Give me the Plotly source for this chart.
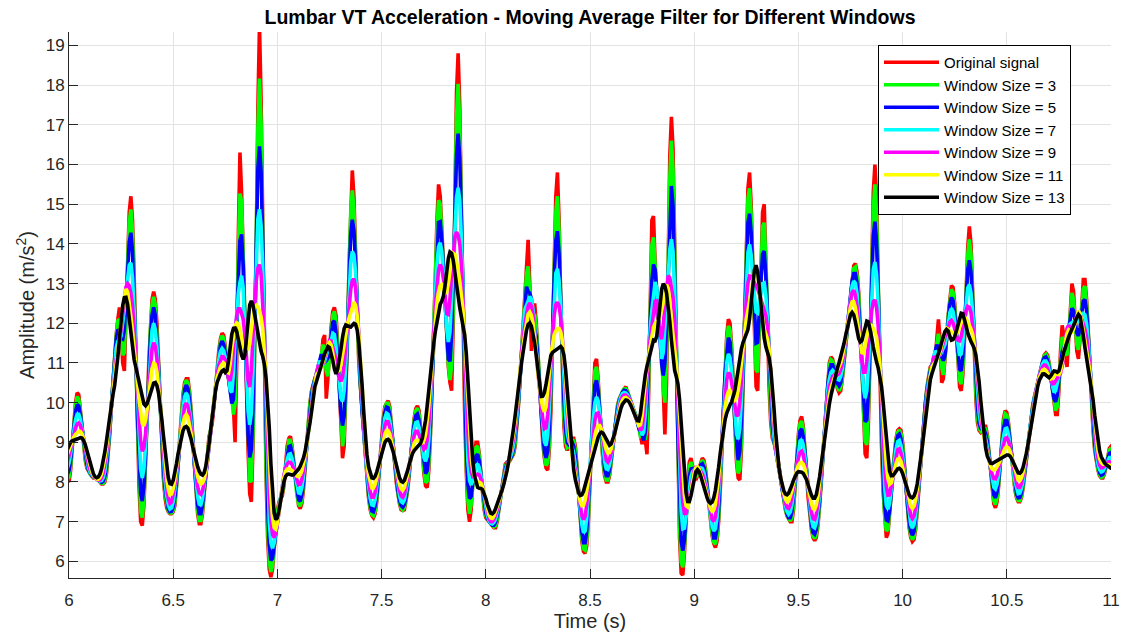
import numpy as np
import pandas as pd
import plotly.graph_objects as go

# Sampling of the lumbar VT acceleration signal
fs = 128.0            # samples per second
t_start = 5.9375      # first sample time (s)

# Original signal (m/s^2), one row = 1/16 s (8 samples)
signal_pre = [9.0, 9.0, 8.9, 8.8, 8.6, 8.4, 8.2, 8.05]
signal_6s = [
    8.0, 8.3, 8.9, 9.5, 10.0, 10.25, 10.2, 9.8,
    9.3, 8.9, 8.55, 8.35, 8.25, 8.2, 8.15, 8.1,
    8.1, 8.1, 8.05, 8.0, 7.95, 7.95, 8.0, 8.2,
    8.6, 9.2, 9.9, 10.6, 11.2, 11.7, 12.1, 12.4,
    11.8, 11.0, 10.8, 12.0, 13.6, 14.8, 15.2, 14.6,
    13.2, 11.3, 9.4, 7.9, 7.0, 6.9, 7.4, 8.4,
    9.7, 11.0, 12.0, 12.6, 12.8, 12.6, 12.0, 11.0,
    9.9, 8.9, 8.1, 7.6, 7.35, 7.25, 7.2, 7.2,
    7.25, 7.4, 7.8, 8.4, 9.1, 9.7, 10.2, 10.5,
    10.6, 10.6, 10.3, 9.8, 9.1, 8.4, 7.7, 7.2,
    6.95, 6.95, 7.2, 7.7, 8.3, 8.8, 9.15, 9.3,
    9.5, 9.9, 10.4, 10.9, 11.3, 11.6, 11.75, 11.7,
    11.4, 10.9, 10.5, 10.3, 10.2, 9.9, 9.0, 11.0,
    14.2, 16.3, 15.3, 13.6, 11.8, 10.2, 8.8, 7.7,
    7.5, 8.9, 11.2, 13.8, 17.4, 19.5, 17.6, 14.0,
    10.6, 8.3, 6.6, 5.8, 5.6, 5.8, 6.3, 6.9,
]
signal_7s = [
    7.3, 7.5, 7.6, 7.65, 7.9, 8.4, 8.9, 9.1,
    9.15, 8.9, 8.5, 8.0, 7.6, 7.4, 7.33, 7.45,
    7.8, 8.4, 9.0, 9.6, 10.0, 10.3, 10.5, 10.6,
    10.7, 10.8, 10.9, 11.1, 11.6, 11.7, 10.1, 10.6,
    11.3, 11.9, 12.3, 12.4, 12.2, 11.5, 10.4, 9.2,
    8.6, 8.9, 10.0, 11.6, 13.4, 15.0, 15.85, 15.2,
    13.6, 12.0, 11.0, 10.4, 9.8, 9.2, 8.6, 8.1,
    7.6, 7.3, 7.15, 7.1, 7.2, 7.5, 8.0, 8.6,
    9.2, 9.6, 9.9, 10.0, 10.05, 9.9, 9.5, 9.0,
    8.5, 8.0, 7.7, 7.45, 7.3, 7.28, 7.3, 7.5,
    7.8, 8.2, 8.7, 9.2, 9.6, 9.85, 9.92, 9.8,
    9.4, 8.8, 8.2, 7.9, 7.86, 8.3, 9.2, 10.3,
    11.6, 13.1, 14.6, 15.5, 15.2, 14.3, 13.2, 12.3,
    11.5, 10.9, 10.5, 10.3, 12.0, 15.0, 17.8, 18.8,
    17.5, 14.8, 12.0, 9.8, 8.3, 7.3, 7.0, 7.3,
    8.0, 8.6, 9.0, 9.0, 8.7, 8.2, 7.7, 7.3,
]
signal_8s = [
    7.1, 7.05, 7.0, 6.95, 6.9, 6.85, 6.85, 7.0,
    7.3, 7.6, 7.95, 8.25, 8.45, 8.5, 8.5, 8.55,
    8.65, 8.7, 8.9, 9.3, 9.9, 10.6, 11.3, 11.9,
    12.4, 13.2, 14.1, 13.0, 11.3, 12.2, 12.5, 12.0,
    11.2, 10.4, 9.6, 9.0, 8.6, 8.35, 8.3, 8.8,
    9.8, 11.4, 13.4, 15.2, 15.8, 14.6, 12.6, 10.6,
    9.4, 8.9, 8.8, 8.9, 9.0, 9.1, 9.1, 8.9,
    8.4, 7.7, 7.0, 6.5, 6.25, 6.2, 6.4, 7.0,
    8.0, 9.2, 10.3, 11.0, 11.1, 10.6, 9.8, 9.0,
    8.5, 8.15, 8.0, 8.0, 8.15, 8.5, 8.9, 9.3,
    9.7, 9.95, 10.1, 10.2, 10.3, 10.35, 10.4, 10.3,
    10.15, 10.0, 9.9, 9.8, 9.7, 9.6, 9.4, 9.1,
    8.95, 9.4, 9.1, 8.7, 10.2, 12.6, 14.6, 14.7,
    13.2, 12.3, 12.0, 11.9, 11.5, 10.3, 9.2, 10.5,
    13.5, 16.2, 17.2, 16.4, 14.0, 11.0, 8.4, 6.6,
    5.7, 5.65, 6.2, 7.2, 8.0, 8.5, 8.6, 8.4,
]
signal_9s = [
    8.15, 8.05, 8.15, 8.35, 8.5, 8.6, 8.55, 8.3,
    7.9, 7.4, 7.0, 6.65, 6.45, 6.35, 6.5, 7.0,
    7.8, 8.9, 10.0, 11.0, 11.7, 12.1, 12.0, 11.4,
    10.4, 9.3, 8.5, 8.1, 8.05, 8.8, 10.4, 12.3,
    14.2, 15.4, 15.8, 15.0, 13.4, 11.8, 10.4, 10.3,
    11.6, 13.5, 14.8, 15.0, 13.8, 12.0, 10.4, 9.5,
    9.1, 9.0, 8.9, 8.7, 8.4, 8.1, 7.8, 7.5,
    7.3, 7.15, 7.05, 7.0, 7.0, 7.3, 7.9, 8.6,
    9.2, 9.55, 9.65, 9.4, 8.9, 8.2, 7.6, 7.1,
    6.8, 6.6, 6.52, 6.6, 6.9, 7.4, 8.0, 8.7,
    9.4, 10.0, 10.6, 11.0, 11.15, 11.1, 10.9, 10.6,
    10.35, 10.25, 10.3, 10.6, 11.0, 11.5, 12.0, 12.4,
    12.8, 13.2, 13.45, 13.5, 13.3, 12.8, 12.0, 11.0,
    9.8, 8.7, 8.6, 9.5, 11.2, 13.3, 15.3, 16.0,
    15.2, 13.0, 10.8, 9.0, 7.8, 7.0, 6.6, 6.7,
    7.1, 7.7, 8.3, 8.8, 9.1, 9.3, 9.34, 9.3,
]
signal_10s = [
    9.0, 8.5, 7.9, 7.3, 6.85, 6.6, 6.5, 6.55,
    6.8, 7.3, 7.9, 8.5, 9.1, 9.6, 10.0, 10.4,
    10.7, 10.9, 10.95, 11.0, 11.1, 11.5, 12.1, 11.6,
    10.5, 10.6, 11.0, 11.6, 12.2, 12.7, 12.95, 12.9,
    12.5, 11.8, 11.0, 10.4, 10.3, 10.7, 11.6, 12.8,
    13.9, 14.44, 14.0, 12.8, 11.3, 10.1, 9.5, 9.3,
    9.25, 9.3, 9.4, 9.4, 9.2, 8.8, 8.3, 7.8,
    7.45, 7.35, 7.5, 7.9, 8.5, 9.1, 9.6, 9.8,
    9.75, 9.5, 9.1, 8.6, 8.1, 7.8, 7.6, 7.5,
    7.5, 7.6, 7.85, 8.2, 8.6, 9.0, 9.4, 9.7,
    9.95, 10.15, 10.3, 10.5, 10.7, 10.9, 11.1, 11.2,
    11.25, 11.2, 11.0, 10.7, 10.4, 10.0, 9.7, 9.7,
    10.3, 11.3, 11.95, 11.7, 11.1, 10.9, 11.6, 12.5,
    13.0, 12.8, 12.0, 11.3, 11.1, 11.6, 12.4, 13.1,
    13.1, 12.6, 11.8, 10.9, 10.0, 9.3, 8.8, 8.5,
    8.3, 8.15, 8.1, 8.1, 8.2, 8.4, 8.65, 8.85,
]
signal_11s = [8.9, 8.8, 8.5, 8.2, 8.0, 7.9, 7.9, 8.0]

window_sizes = [3, 5, 7, 9, 11, 13]
series_names = ["Original signal"] + [f"Window Size = {w}" for w in window_sizes]
series_colors = ["#ff0000", "#00ff00", "#0000ff", "#00ffff", "#ff00ff", "#ffff00", "#000000"]

x_ticks = [6, 6.5, 7, 7.5, 8, 8.5, 9, 9.5, 10, 10.5, 11]
x_tick_labels = ["6", "6.5", "7", "7.5", "8", "8.5", "9", "9.5", "10", "10.5", "11"]
y_ticks = list(range(6, 20))

# ---------------------------------------------------------------------------
signal = np.array(signal_pre + signal_6s + signal_7s + signal_8s + signal_9s
                  + signal_10s + signal_11s)
time = t_start + np.arange(len(signal)) / fs

series = [signal]
s = pd.Series(signal)
for w in window_sizes:
    series.append(s.rolling(window=w, center=True, min_periods=1).mean().to_numpy())

fig = go.Figure()
for name, color, values in zip(series_names, series_colors, series):
    fig.add_trace(go.Scatter(
        x=time, y=values, mode="lines", name=name,
        line=dict(color=color, width=3.6),
    ))

FONT = "Liberation Sans, Arial, sans-serif"
AX = "#262626"

fig.update_layout(
    width=1124, height=634,
    margin=dict(l=69, r=13, t=32, b=56),
    paper_bgcolor="white", plot_bgcolor="white",
    font=dict(family=FONT, color=AX, size=17),
    title=dict(
        text="<b>Lumbar VT Acceleration - Moving Average Filter for Different Windows</b>",
        x=0.5, xref="paper", xanchor="center",
        y=1 - 17 / 634, yref="container", yanchor="middle",
        font=dict(family=FONT, size=19.5, color="black"),
    ),
    legend=dict(
        x=(878 - 69) / 1042, y=(578 - 45) / 546, xanchor="left", yanchor="top",
        bgcolor="white", bordercolor="black", borderwidth=1,
        font=dict(family=FONT, size=15, color="black"),
        tracegroupgap=0, itemwidth=55,
    ),
    showlegend=True,
)

fig.update_xaxes(
    range=[6, 11], tickvals=x_ticks, ticktext=x_tick_labels,
    ticks="inside", ticklen=9, tickwidth=1, tickcolor=AX,
    showline=True, linecolor=AX, linewidth=1, mirror=False,
    showgrid=True, gridcolor="#e3e3e3", gridwidth=1, zeroline=False,
    tickfont=dict(family=FONT, size=17, color=AX),
    ticklabelstandoff=7, automargin=False,
    title=dict(text="Time (s)", standoff=4, font=dict(family=FONT, size=20, color=AX)),
)
fig.update_yaxes(
    range=[5.58, 19.34], tickvals=y_ticks,
    ticks="inside", ticklen=9, tickwidth=1, tickcolor=AX,
    showline=True, linecolor=AX, linewidth=1, mirror=False,
    showgrid=True, gridcolor="#e3e3e3", gridwidth=1, zeroline=False,
    tickfont=dict(family=FONT, size=17, color=AX),
    automargin=False,
    title=dict(text="Amplitude (m/s<sup>2</sup>)", standoff=5,
               font=dict(family=FONT, size=20, color=AX)),
)

fig.write_html("out.html")
